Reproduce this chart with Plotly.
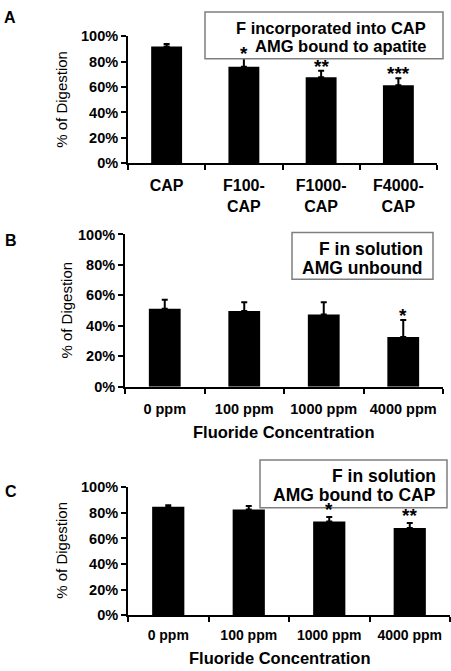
import plotly.graph_objects as go

# ---------------- data ----------------
cats_a = ["CAP", "F100-<br>CAP", "F1000-<br>CAP", "F4000-<br>CAP"]
vals_a = [0.92, 0.76, 0.677, 0.615]
err_a = [0.02, 0.07, 0.052, 0.055]
stars_a = ["", "*", "**", "***"]

cats_b = ["0 ppm", "100 ppm", "1000 ppm", "4000 ppm"]
vals_b = [0.513, 0.497, 0.474, 0.327]
err_b = [0.059, 0.058, 0.081, 0.111]
stars_b = ["", "", "", "*"]

cats_c = ["0 ppm", "100 ppm", "1000 ppm", "4000 ppm"]
vals_c = [0.847, 0.827, 0.733, 0.682]
err_c = [0.013, 0.026, 0.035, 0.038]
stars_c = ["", "", "*", "**"]

y_ticks = [0, 0.2, 0.4, 0.6, 0.8, 1.0]
y_ticktext = ["0%", "20%", "40%", "60%", "80%", "100%"]

W, H = 451, 671
FONT = "Arial, 'Liberation Sans', sans-serif"

def px(x):
    return x / W

def py(y):
    return 1 - y / H

panels = [
    dict(cats=cats_a, vals=vals_a, err=err_a, stars=stars_a, xd=(128, 437), yd=(29, 159),
         xtick_size=16, standoff=7, star_shift=-8, label="A", label_pos=(2, 10),
         box=(205, 4, 443, 52), lines=[("F incorporated into CAP", 20), ("AMG bound to apatite", 39)],
         box_right=428, box_size=16.5, ytitle=(62, 94), xtitle=None),
    dict(cats=cats_b, vals=vals_b, err=err_b, stars=stars_b, xd=(125, 443), yd=(232, 388),
         xtick_size=14.5, standoff=8, star_shift=-8, label="B", label_pos=(3, 238),
         box=(292, 230, 433, 278), lines=[("F in solution", 247), ("AMG unbound", 266)],
         box_right=425, box_size=17.5, ytitle=(67, 310), xtitle=(284, 434)),
    dict(cats=cats_c, vals=vals_c, err=err_c, stars=stars_c, xd=(128, 450), yd=(491, 622),
         xtick_size=14, standoff=6, star_shift=-5, label="C", label_pos=(3, 495),
         box=(260, 463, 447, 512), lines=[("F in solution", 479), ("AMG bound to CAP", 499)],
         box_right=438, box_size=17.5, ytitle=(62, 556), xtitle=(280, 666)),
]

fig = go.Figure()
shapes = []
annotations = []

for i, p in enumerate(panels):
    n = "" if i == 0 else str(i + 1)
    xa, ya = "x" + n, "y" + n
    fig.add_trace(go.Bar(
        x=p["cats"], y=p["vals"], xaxis=xa, yaxis=ya, width=0.4,
        marker=dict(color="black", line=dict(width=0)),
        error_y=dict(type="data", symmetric=False, array=p["err"],
                     arrayminus=[0] * len(p["err"]), color="black", thickness=2, width=3),
        showlegend=False, hoverinfo="skip",
    ))
    xkey = "xaxis" + n
    ykey = "yaxis" + n
    fig.layout[xkey] = dict(
        domain=[px(p["xd"][0]), px(p["xd"][1])], anchor=ya, type="category",
        showline=True, linecolor="black", linewidth=2, ticks="outside",
        tickson="boundaries", ticklen=5, tickwidth=2, tickcolor="black",
        ticklabelstandoff=p["standoff"],
        showgrid=False, zeroline=False,
        tickfont=dict(family=FONT, size=p["xtick_size"], color="black", weight="bold"),
        fixedrange=True,
    )
    fig.layout[ykey] = dict(
        domain=[py(p["yd"][1]), py(p["yd"][0])], anchor=xa, range=[0, 1.0],
        tickvals=y_ticks, ticktext=y_ticktext,
        showline=True, linecolor="black", linewidth=2, ticks="outside",
        ticklen=5, tickwidth=2, tickcolor="black",
        showgrid=False, zeroline=False,
        tickfont=dict(family=FONT, size=14.5, color="black", weight="bold"),
        fixedrange=True,
    )
    # legend-like box
    x0, y0, x1, y1 = p["box"]
    shapes.append(dict(type="rect", xref="paper", yref="paper",
                       x0=px(x0), x1=px(x1), y0=py(y1), y1=py(y0),
                       line=dict(color="#7f7f7f", width=1.5), fillcolor="white", layer="above"))
    for text, yy in p["lines"]:
        annotations.append(dict(xref="paper", yref="paper", x=px(p["box_right"]), y=py(yy),
                                xanchor="right", yanchor="middle", showarrow=False, text=text,
                                font=dict(family=FONT, size=p["box_size"], color="black", weight="bold")))
    # significance stars
    for c, v, e, s in zip(p["cats"], p["vals"], p["err"], p["stars"]):
        if s:
            annotations.append(dict(xref=xa, yref=ya, x=c, y=v + e, xanchor="center",
                                    yanchor="bottom", yshift=p["star_shift"], showarrow=False, text=s,
                                    font=dict(family=FONT, size=19, color="black", weight="bold")))
    # panel label
    lx, ly = p["label_pos"]
    annotations.append(dict(xref="paper", yref="paper", x=px(lx), y=py(ly), xanchor="left",
                            yanchor="middle", showarrow=False, text=p["label"],
                            font=dict(family=FONT, size=16, color="black", weight="bold")))
    # y title
    tx, ty = p["ytitle"]
    annotations.append(dict(xref="paper", yref="paper", x=px(tx), y=py(ty), xanchor="center",
                            yanchor="middle", showarrow=False, text="% of Digestion", textangle=-90,
                            font=dict(family=FONT, size=15, color="black")))
    if p["xtitle"]:
        tx, ty = p["xtitle"]
        annotations.append(dict(xref="paper", yref="paper", x=px(tx), y=py(ty), xanchor="center",
                                yanchor="middle", showarrow=False, text="Fluoride Concentration",
                                font=dict(family=FONT, size=16.5, color="black", weight="bold")))

fig.update_layout(
    width=W, height=H, margin=dict(l=0, r=0, t=0, b=0),
    paper_bgcolor="white", plot_bgcolor="white",
    shapes=shapes, annotations=annotations, bargap=0.6,
    font=dict(family=FONT, color="black"),
)

fig.write_html("out.html", config={"displayModeBar": False},
               post_script="document.body.style.margin='0';document.body.style.overflow='hidden';")
